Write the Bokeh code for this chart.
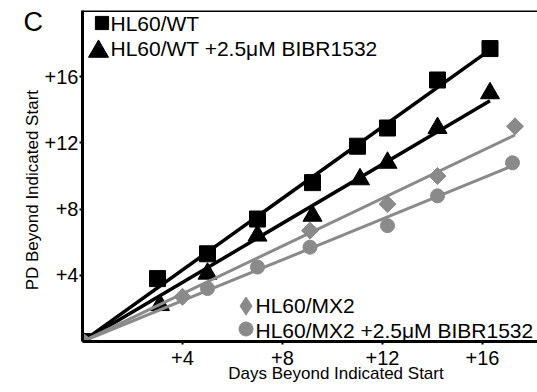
import math
from bokeh.plotting import figure
from bokeh.models import Range1d, FixedTicker, Legend, LegendItem, Label, Span
from bokeh.embed import file_html
from bokeh.resources import INLINE

# ---- data ----
wt_days = [0, 3.0, 5.0, 7.0, 9.2, 11.0, 12.2, 14.2, 16.3]
wt_pd = [0, 3.8, 5.3, 7.4, 9.6, 11.8, 12.9, 15.8, 17.7]

wtb_days = [0, 3.1, 5.0, 7.0, 9.2, 11.1, 12.2, 14.2, 16.3]
wtb_pd = [0, 2.2, 4.1, 6.4, 7.6, 9.8, 10.8, 12.9, 15.0]

mx2_days = [0, 4.0, 9.1, 12.2, 14.2, 17.3]
mx2_pd = [0, 2.7, 6.7, 8.3, 10.0, 13.0]

mx2b_days = [0, 5.0, 7.0, 9.1, 12.2, 14.2, 17.2]
mx2b_pd = [0, 3.2, 4.5, 5.7, 7.0, 8.8, 10.8]

x_ticks = [4, 8, 12, 16]
y_ticks = [4, 8, 12, 16]
x_tick_labels = ["+4", "+8", "+12", "+16"]
y_tick_labels = ["+4", "+8", "+12", "+16"]

labels = ["HL60/WT", "HL60/WT +2.5\u03bcM BIBR1532",
          "HL60/MX2", "HL60/MX2 +2.5\u03bcM BIBR1532"]

FONT = "Liberation Sans"
GRAY = "#8a8a8a"
NB = "\u00a0"


def fit_line(xs, ys):
    # least-squares line through the origin, drawn from 0 to the last day
    sxy = sum(a * b for a, b in zip(xs, ys))
    sxx = sum(a * a for a in xs)
    k = sxy / sxx
    xe = max(xs)
    return [0, xe], [0, k * xe]


p = figure(width=537, height=392, output_backend="svg", toolbar_location=None,
           x_range=Range1d(0, 18.2), y_range=Range1d(0, 20), title=None,
           min_border_left=82, min_border_top=10, min_border_right=0,
           min_border_bottom=51)
p.outline_line_color = None
p.background_fill_color = "white"
p.xgrid.visible = False
p.ygrid.visible = False

for ax in (p.xaxis[0], p.yaxis[0]):
    ax.axis_line_width = 3
    ax.axis_line_color = "black"
    ax.major_tick_line_width = 2
    ax.major_tick_in = 0
    ax.major_tick_out = 3
    ax.minor_tick_line_color = None
    ax.major_label_text_font = FONT
    ax.major_label_text_font_size = "20px"
    ax.major_label_text_color = "black"
    ax.axis_label_text_font = FONT
    ax.axis_label_text_font_size = "17px"
    ax.axis_label_text_font_style = "normal"
    ax.axis_label_text_color = "black"

p.xaxis.ticker = FixedTicker(ticks=x_ticks)
p.yaxis.ticker = FixedTicker(ticks=y_ticks)
p.xaxis.major_label_overrides = dict(zip(x_ticks, x_tick_labels))
p.yaxis.major_label_overrides = dict(zip(y_ticks, y_tick_labels))
p.xaxis.axis_label = NB * 11 + "Days Beyond Indicated Start"
p.yaxis.axis_label = "PD Beyond Indicated Start" + NB * 6
p.xaxis.major_label_standoff = 6
p.xaxis.axis_label_standoff = -4
p.yaxis.major_label_standoff = 1
p.yaxis.axis_label_standoff = 0

p.add_layout(Span(location=20, dimension="width", line_color="black", line_width=3))

# black series
lx, ly = fit_line(wt_days, wt_pd)
p.line(lx, ly, line_color="black", line_width=3.5)
r_wt = p.scatter(wt_days, wt_pd, marker="square", size=16, color="black")

lx, ly = fit_line(wtb_days, wtb_pd)
p.line(lx, ly, line_color="black", line_width=3.5)
r_wtb = p.scatter(wtb_days, wtb_pd, marker="triangle", size=19, color="black")

# gray series
lx, ly = fit_line(mx2_days, mx2_pd)
p.line(lx, ly, line_color=GRAY, line_width=3)
# diamond renderer gives the legend key; the rotated squares drawn on top of it
# give the square-ish diamonds of the plot (a legend key ignores marker angle)
r_mx2 = p.scatter(mx2_days, mx2_pd, marker="diamond", size=14, color=GRAY)
p.scatter(mx2_days, mx2_pd, marker="square", size=12, angle=math.pi / 4, color=GRAY)

lx, ly = fit_line(mx2b_days, mx2b_pd)
p.line(lx, ly, line_color=GRAY, line_width=3)
r_mx2b = p.scatter(mx2b_days, mx2b_pd, marker="circle", size=14, color=GRAY)


def key(renderer, g, loc):
    # one legend per key, so that each key gets its own size and place
    return Legend(items=[LegendItem(label=" ", renderers=[renderer])],
                  location=loc, glyph_width=g, glyph_height=g, spacing=0,
                  label_standoff=0, padding=0, margin=0, label_width=1,
                  border_line_color=None, background_fill_alpha=0,
                  label_text_font_size="1px")


p.add_layout(key(r_wt, 33, (2.5, 302)))
p.add_layout(key(r_wtb, 50, (-9, 265)))
p.add_layout(key(r_mx2, 45, (140.5, 13.5)))
p.add_layout(key(r_mx2b, 35, (145.5, -4.5)))

text_pos = [(28, 318.5), (28, 293), (173, 36.5), (173, 11.5)]
for t, (tx, ty) in zip(labels, text_pos):
    p.add_layout(Label(x=tx, y=ty, x_units="screen", y_units="screen", text=t,
                       text_baseline="middle", text_align="left",
                       text_font=FONT, text_font_size="21px", text_color="black"))

p.add_layout(Label(x=23, y=305, x_units="screen", y_units="screen", text="C",
                   text_font=FONT, text_font_size="27px", text_color="black"),
             "left")

open("out.html", "w").write(file_html(p, INLINE))
